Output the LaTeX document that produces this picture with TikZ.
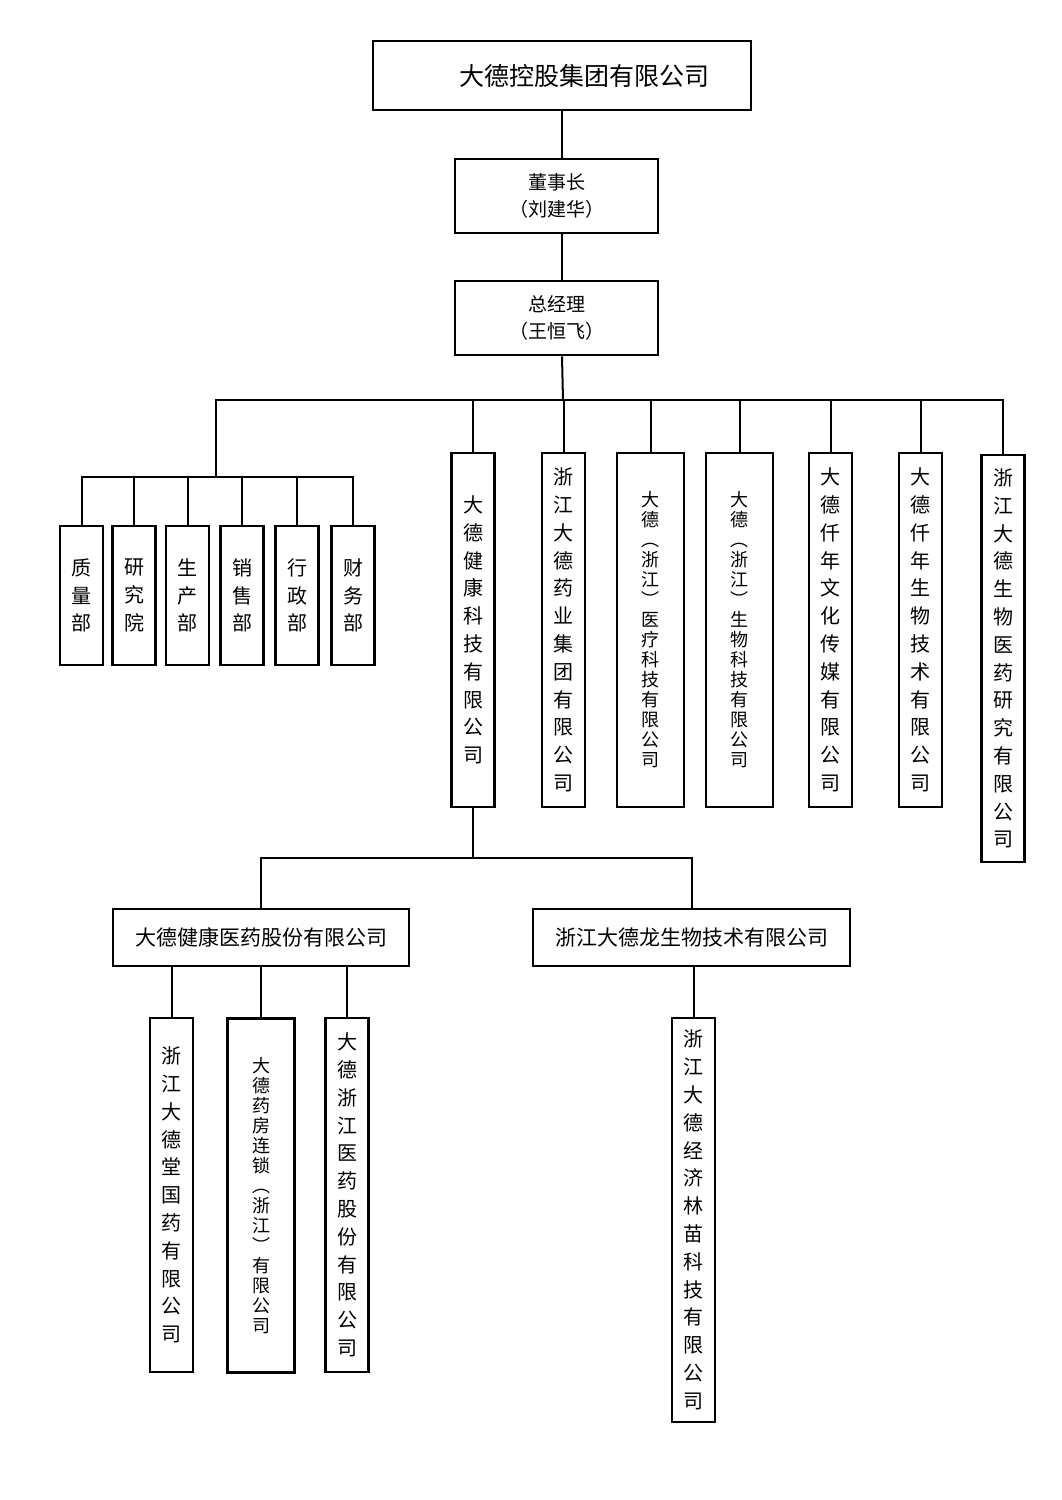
\documentclass[tikz,border=0pt]{standalone}
\usepackage{fontspec}
\setmainfont{Noto Sans CJK SC}
\begin{document}
\begin{tikzpicture}[x=0.5pt,y=-0.5pt, line width=1pt,
  box/.style={draw, line width=1.4pt, inner sep=0pt, align=center},
  dept/.style={box, minimum width=21.5pt, minimum height=69.5pt, font=\fontsize{10}{13.8}\selectfont},
  sub/.style={box, minimum width=21.5pt, minimum height=177pt, font=\fontsize{10}{13.9}\selectfont},
  subw/.style={box, minimum width=33.5pt, minimum height=177pt, font=\fontsize{9}{10}\selectfont}]
\useasboundingbox (0,0) rectangle (1061,1500);
\node[box, minimum width=189pt, minimum height=34.5pt, font=\fontsize{12.5}{15}\selectfont] (top) at (562,75.5) {\hspace*{22pt}大德控股集团有限公司};
\node[box, minimum width=101.5pt, minimum height=37pt, font=\fontsize{9.5}{13.5}\selectfont] (chair) at (556.5,196) {董事长\\（刘建华）};
\node[box, minimum width=101.5pt, minimum height=37pt, font=\fontsize{9.5}{13.5}\selectfont] (gm) at (556.5,318) {总经理\\（王恒飞）};
% departments
\node[dept] (d1) at (81.5,595.5) {质\\量\\部};
\node[dept] (d2) at (134,595.5) {研\\究\\院};
\node[dept] (d3) at (187.5,595.5) {生\\产\\部};
\node[dept] (d4) at (242,595.5) {销\\售\\部};
\node[dept] (d5) at (297,595.5) {行\\政\\部};
\node[dept] (d6) at (353,595.5) {财\\务\\部};
% subsidiaries
\node[sub] (sA) at (473,630) {大\\德\\健\\康\\科\\技\\有\\限\\公\\司};
\node[sub] (sB) at (563.5,630) {浙\\江\\大\\德\\药\\业\\集\\团\\有\\限\\公\\司};
\node[subw] (sC) at (650.5,630) {大\\德\\︵\\浙\\江\\︶\\医\\疗\\科\\技\\有\\限\\公\\司};
\node[subw] (sD) at (739.5,630) {大\\德\\︵\\浙\\江\\︶\\生\\物\\科\\技\\有\\限\\公\\司};
\node[sub] (sE) at (830.5,630) {大\\德\\仟\\年\\文\\化\\传\\媒\\有\\限\\公\\司};
\node[sub] (sF) at (920.5,630) {大\\德\\仟\\年\\生\\物\\技\\术\\有\\限\\公\\司};
\node[sub, minimum height=203.5pt] (sG) at (1003,658.5) {浙\\江\\大\\德\\生\\物\\医\\药\\研\\究\\有\\限\\公\\司};
% second level
\node[box, minimum width=148pt, minimum height=28.5pt, font=\fontsize{10.5}{13}\selectfont] (hA) at (261,937.5) {大德健康医药股份有限公司};
\node[box, minimum width=158.5pt, minimum height=28.5pt, font=\fontsize{10.5}{13}\selectfont] (hB) at (691.5,937.5) {浙江大德龙生物技术有限公司};
\node[sub] (j1) at (171.5,1195) {浙\\江\\大\\德\\堂\\国\\药\\有\\限\\公\\司};
\node[subw] (j2) at (261,1195.5) {大\\德\\药\\房\\连\\锁\\︵\\浙\\江\\︶\\有\\限\\公\\司};
\node[sub] (j3) at (347,1195) {大\\德\\浙\\江\\医\\药\\股\\份\\有\\限\\公\\司};
\node[sub, minimum height=202pt] (j4) at (693.5,1220) {浙\\江\\大\\德\\经\\济\\林\\苗\\科\\技\\有\\限\\公\\司};
% connectors
\coordinate (bar) at (563,400);
\coordinate (dj) at (216,477);
\coordinate (lbar) at (473,858);
\draw (top.south) -- (top.south |- chair.north);
\draw (top.south |- chair.south) -- (top.south |- gm.north);
\draw (top.south |- gm.south) -- (bar);
\draw (bar) -| (dj);
\foreach \n in {d1,d2,d3,d4,d5,d6} \draw (dj) -| (\n.north);
\foreach \n in {sA,sB,sC,sD,sE,sF,sG} \draw (bar) -| (\n.north);
\draw (sA.south) -- (lbar);
\draw (lbar) -| (hA.north);
\draw (lbar) -| (hB.north);
\foreach \n in {j1,j2,j3} \draw (hA.south -| \n.north) -- (\n.north);
\draw (hB.south -| j4.north) -- (j4.north);
\end{tikzpicture}
\end{document}
